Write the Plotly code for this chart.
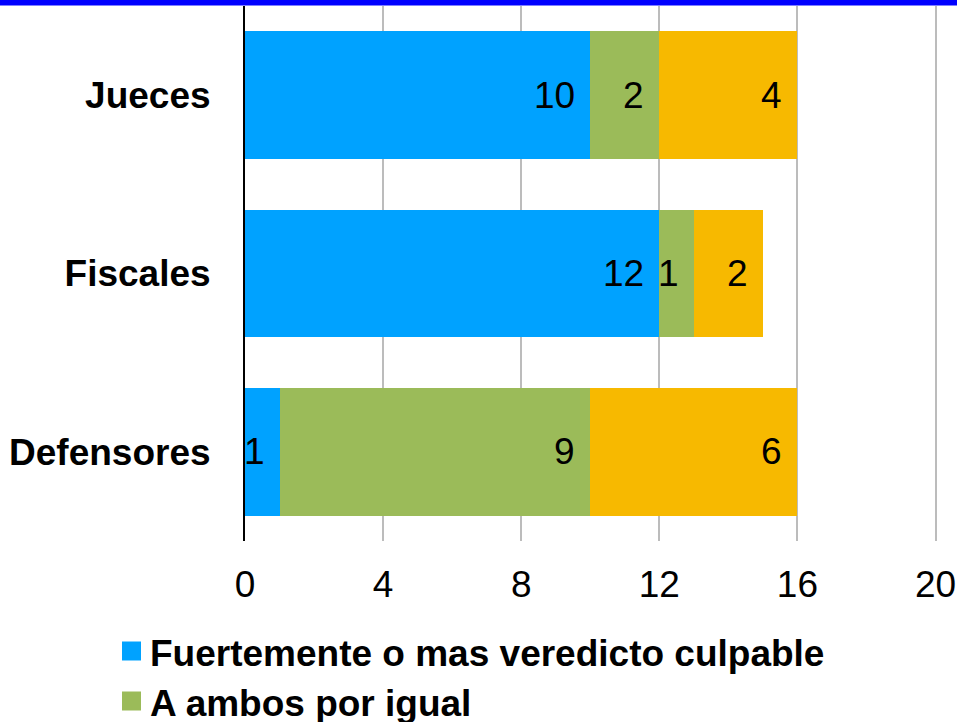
import plotly.graph_objects as go

categories = ["Jueces", "Fiscales", "Defensores"]
series_names = [
    "Fuertemente o mas veredicto culpable",
    "A ambos por igual",
    "Fuertemente o mas veredicto inocente",
]
series_values = [
    [10, 12, 1],
    [2, 1, 9],
    [4, 2, 6],
]
series_colors = ["#00A2FF", "#9BBB59", "#F7B900"]
x_ticks = [0, 4, 8, 12, 16, 20]

FONT = "Liberation Sans, Arial, sans-serif"

# plot area in pixels
L, R, T, B = 245, 18, 6, 181
W, H = 957, 722
PW, PH = W - L - R, H - T - B


def px_to_paper_x(px):
    return (px - L) / PW


def px_to_paper_y(py):
    return (H - B - py) / PH


fig = go.Figure()
for name, vals, col in zip(series_names, series_values, series_colors):
    fig.add_trace(go.Bar(
        y=categories, x=vals, name=name, orientation="h",
        marker=dict(color=col, line=dict(width=0)),
        showlegend=False, hoverinfo="x+name",
    ))

# data labels at the inside end of each segment
annotations = []
for i, cat in enumerate(categories):
    cum = 0
    for vals in series_values:
        cum += vals[i]
        annotations.append(dict(
            x=cum, y=cat, xref="x", yref="y", text=str(vals[i]),
            showarrow=False, xanchor="right", yanchor="middle",
            xshift=-13, font=dict(family=FONT, size=37, color="black"),
        ))

# manual legend (only the first two rows are visible in the reference)
legend_rows = [(651, 0), (701, 1)]
shapes = []
for cy, k in legend_rows:
    shapes.append(dict(
        type="rect", xref="paper", yref="paper",
        x0=px_to_paper_x(122), x1=px_to_paper_x(141),
        y0=px_to_paper_y(cy - 9.5), y1=px_to_paper_y(cy + 9.5),
        fillcolor=series_colors[k], line=dict(width=0),
    ))
    annotations.append(dict(
        x=px_to_paper_x(148), y=px_to_paper_y(cy + 2), xref="paper", yref="paper",
        text="<b>" + series_names[k] + "</b>", showarrow=False,
        xanchor="left", yanchor="middle",
        font=dict(family=FONT, size=37, color="black"),
    ))

# blue band at the top
shapes.append(dict(
    type="rect", xref="paper", yref="paper",
    x0=-0.5, x1=1.5, y0=px_to_paper_y(5.5), y1=px_to_paper_y(-2),
    fillcolor="#0000FF", line=dict(width=0), layer="above",
))

fig.update_layout(
    width=W, height=H,
    margin=dict(l=L, r=R, t=T, b=B, pad=0, autoexpand=False),
    barmode="stack", bargap=0.283,
    plot_bgcolor="white", paper_bgcolor="white",
    font=dict(family=FONT, color="black"),
    xaxis=dict(
        range=[0, 20.1], tickvals=x_ticks, ticktext=[str(v) for v in x_ticks],
        showgrid=True, gridcolor="#BCBCBC", gridwidth=2,
        zeroline=False, showline=False, ticks="", automargin=False,
        tickfont=dict(family=FONT, size=37, color="black"),
        ticklabelstandoff=18, fixedrange=True,
    ),
    yaxis=dict(
        categoryorder="array", categoryarray=categories[::-1],
        showgrid=False, zeroline=False, automargin=False,
        showline=True, linecolor="black", linewidth=2,
        ticks="", ticklabelstandoff=25,
        tickfont=dict(family=FONT, size=37, color="black"),
        tickprefix="<b>", ticksuffix="</b>", fixedrange=True,
    ),
    shapes=shapes,
    annotations=annotations,
)

fig.write_html(
    "out.html",
    config={"displayModeBar": False},
    post_script="document.body.style.margin='0';document.body.style.overflow='hidden';",
)
